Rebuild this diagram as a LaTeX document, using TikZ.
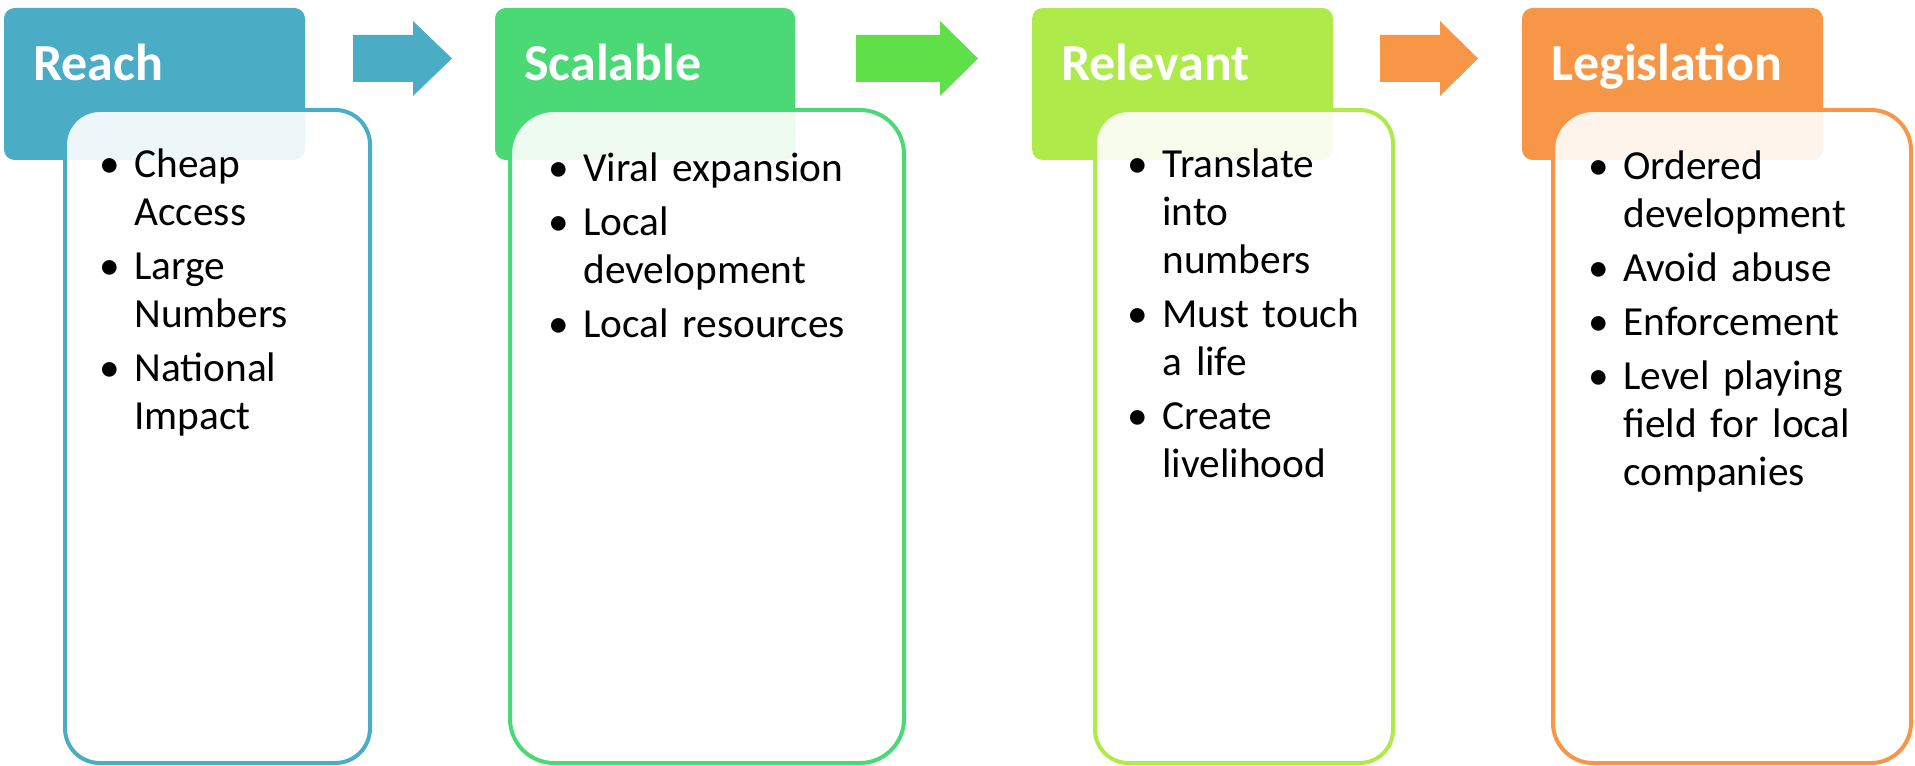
\documentclass[tikz,border=0pt]{standalone}
\usepackage{fontspec}
\setmainfont{Carlito}
\definecolor{reachblue}{HTML}{4BACC6}
\definecolor{scalegreen}{HTML}{4AD975}
\definecolor{arrowgreen}{HTML}{5FE049}
\definecolor{relevlime}{HTML}{AEEA4A}
\definecolor{legisorange}{HTML}{F79646}
\newcommand{\bitem}[1]{\hangindent=26pt\hangafter=1\noindent\makebox[26pt][l]{\textbullet}#1\par}
\tikzset{
	headbox/.style={rounded corners=8pt},
	bodybox/.style={line width=3pt,fill=white,fill opacity=0.9},
	headtext/.style={anchor=base west,inner sep=0pt,text=white,font=\fontsize{39pt}{47pt}\bfseries\selectfont},
	listtext/.style={anchor=base west,inner sep=0pt,text width=240pt,align=left,font=\fontsize{31pt}{36pt}\selectfont}
}
\begin{document}
\begin{tikzpicture}[x=0.75pt,y=-0.75pt]
	\useasboundingbox (0,0) rectangle (1915,766);

	% headers
	\fill[headbox,reachblue]   (4,8) rectangle (305,160);
	\fill[headbox,scalegreen]  (495,8) rectangle (795,160);
	\fill[headbox,relevlime]   (1032,8) rectangle (1333,160);
	\fill[headbox,legisorange] (1522,8) rectangle (1823,160);

	% bodies
	\draw[bodybox,draw=reachblue,rounded corners=26pt]   (65,110) rectangle (370,763);
	\draw[bodybox,draw=scalegreen,rounded corners=33pt]  (510,110) rectangle (904,763);
	\draw[bodybox,draw=relevlime,rounded corners=25pt]   (1095,110) rectangle (1393,763);
	\draw[bodybox,draw=legisorange,rounded corners=30pt] (1553,110) rectangle (1911,763);

	% arrows
	\foreach \ax/\sl/\hl/\col in {353/60/39/reachblue, 856/84/38/arrowgreen, 1380/60/38/legisorange}
		\fill[\col] (\ax,35) -- ++(\sl,0) -- ++(0,-14) -- ++(\hl,37.5) -- ++(-\hl,37.5) -- ++(0,-14) -- ++(-\sl,0) -- cycle;

	\node[headtext] (reach) at (33,81) {Reach};
	\node[headtext] (scalable) at (524,81) {Scalable};
	\node[headtext] (relevant) at (1061,81) {Relevant};
	\node[headtext] (legislation) at (1551,81) {Legislation};

	\node[listtext] (reachlist) at (99.5,178) {\setlength{\parskip}{4.5pt}%
		\bitem{Cheap\newline Access}\bitem{Large\newline Numbers}\bitem{National\newline Impact}};
	\node[listtext] (scalelist) at (548.5,182) {\setlength{\parskip}{4.5pt}%
		\bitem{Viral expansion}\bitem{Local\newline development}\bitem{Local resources}};
	\node[listtext] (relevlist) at (1127.5,178) {\setlength{\parskip}{4.5pt}%
		\bitem{Translate\newline into\newline numbers}\bitem{Must touch\newline a life}\bitem{Create\newline livelihood}};
	\node[listtext] (legislist) at (1588.5,180) {\setlength{\parskip}{4.5pt}%
		\bitem{Ordered\newline development}\bitem{Avoid abuse}\bitem{Enforcement}\bitem{Level playing\newline field for local\newline companies}};
\end{tikzpicture}
\end{document}
